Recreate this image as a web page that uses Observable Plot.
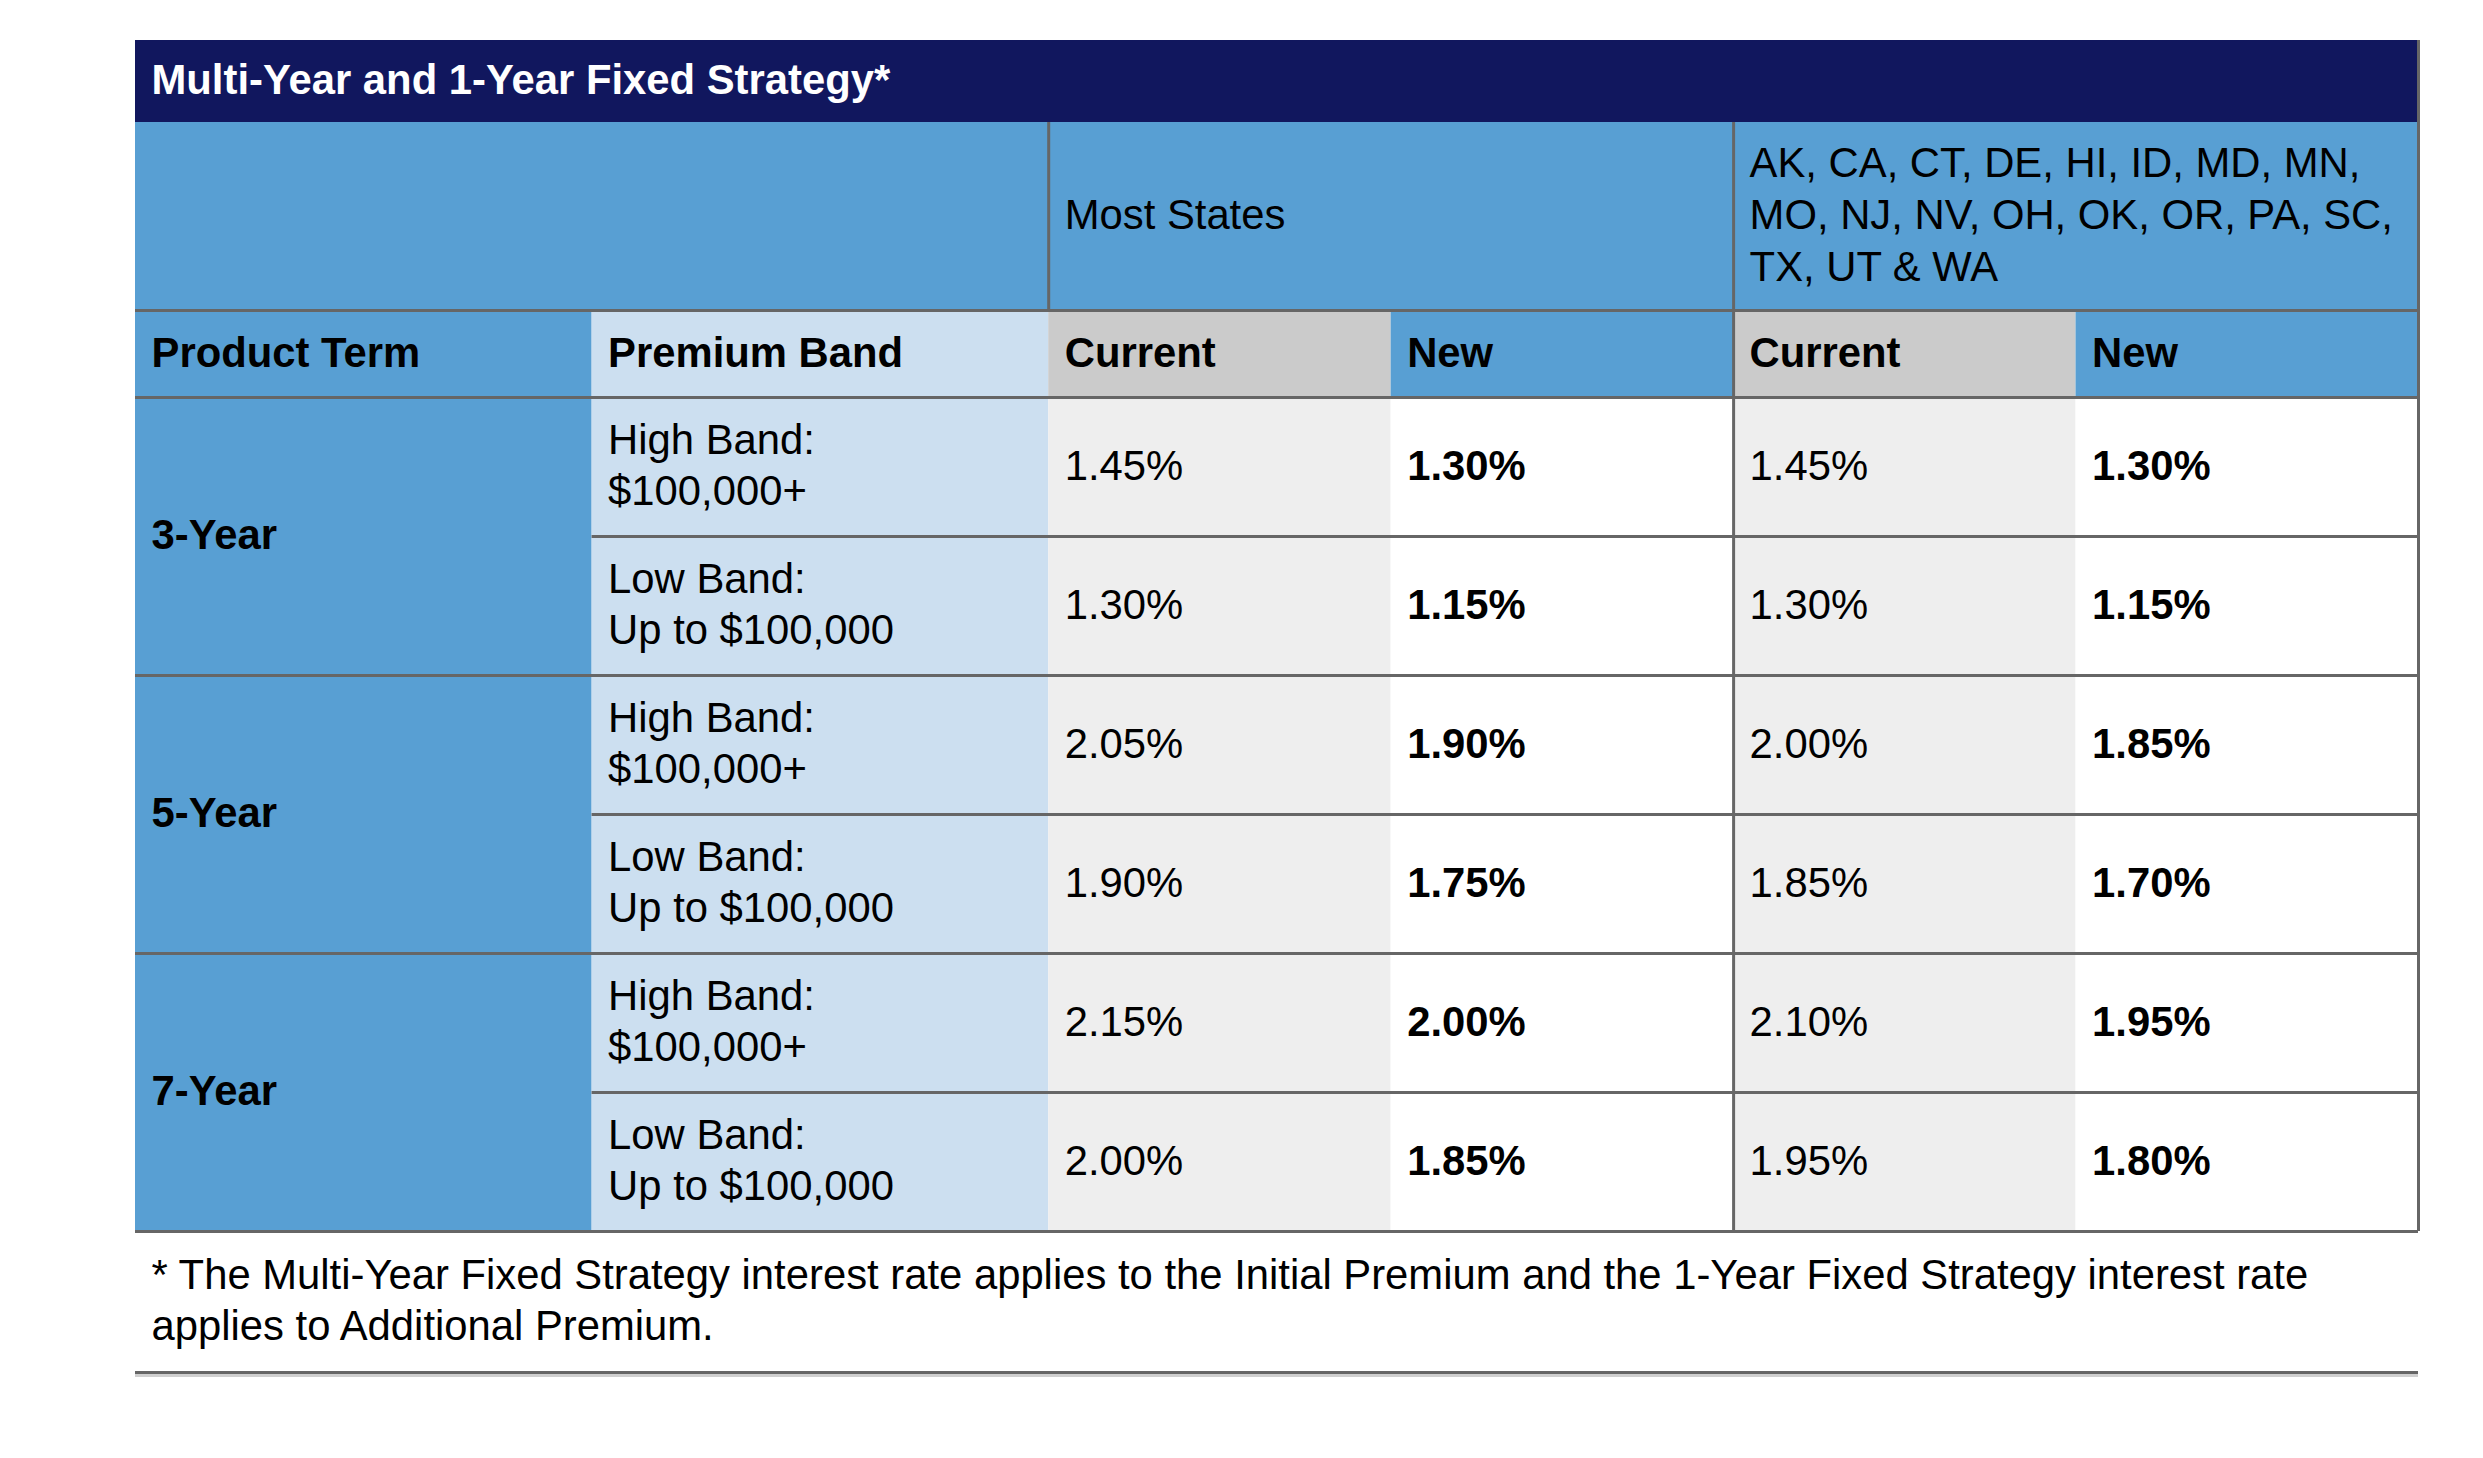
<!DOCTYPE html>
<html>
<head>
<meta charset="utf-8">
<script src="https://cdn.jsdelivr.net/npm/d3@7"></script>
<script src="https://cdn.jsdelivr.net/npm/@observablehq/plot@0.6"></script>
<style>
  html, body { margin: 0; padding: 0; background: #ffffff; }
  svg { display: block; }
</style>
</head>
<body>
<div id="chart"></div>
<script>
// ---- data ----
const title = "Multi-Year and 1-Year Fixed Strategy*";
const stateGroups = ["Most States", "AK, CA, CT, DE, HI, ID, MD, MN,\nMO, NJ, NV, OH, OK, OR, PA, SC,\nTX, UT & WA"];
const columnHeaders = ["Product Term", "Premium Band", "Current", "New", "Current", "New"];
const productTerms = ["3-Year", "5-Year", "7-Year"];
const premiumBands = ["High Band:\n$100,000+", "Low Band:\nUp to $100,000"];
const mostStatesCurrent = [1.45, 1.30, 2.05, 1.90, 2.15, 2.00];
const mostStatesNew     = [1.30, 1.15, 1.90, 1.75, 2.00, 1.85];
const otherStatesCurrent = [1.45, 1.30, 2.00, 1.85, 2.10, 1.95];
const otherStatesNew     = [1.30, 1.15, 1.85, 1.70, 1.95, 1.80];
const footnote = "* The Multi-Year Fixed Strategy interest rate applies to the Initial Premium and the 1-Year Fixed Strategy interest rate\napplies to Additional Premium.";

// ---- layout & style ----
const W = 2483, H = 1458;
const layout = {
  left: 135, right: 2418,
  colUnits: [4, 4, 3, 3, 3, 3],
  top: 40, titleH: 82, head1H: 188, head2H: 87, rowH: 139, footH: 141,
  pad: 16, textShift: -4
};
const colors = {
  navy: "#11175E", blue: "#589FD3", lightBlue: "#CCDFF0",
  headGray: "#CBCBCB", cellGray: "#EEEEEE", white: "#FFFFFF",
  line: "#666666", shadow: "#CFCFCF"
};
const FONT = "'Liberation Sans', Arial, Helvetica, sans-serif";
const FS = 41.8;
const LH = 1.235;

// column edges in column units
const edges = [0];
layout.colUnits.forEach(u => edges.push(edges[edges.length - 1] + u));
const totalUnits = edges[edges.length - 1];

// row edges (y)
const yTitle0 = layout.top, yTitle1 = yTitle0 + layout.titleH;
const yH1 = yTitle1 + layout.head1H;
const yH2 = yH1 + layout.head2H;
const rowY = i => yH2 + i * layout.rowH;
const nRows = productTerms.length * premiumBands.length;
const yTableBottom = rowY(nRows);
const yFoot = yTableBottom + layout.footH;

// ---- build cells ----
const rects = [];
const texts = [];
const fmt = v => d3.format(".2f")(v) + "%";

// title bar
rects.push({x1: 0, x2: totalUnits, y1: yTitle0, y2: yTitle1, fill: colors.navy});
texts.push({x: 0, y: (yTitle0 + yTitle1) / 2, text: title, fill: "white", weight: "bold"});

// header row 1
rects.push({x1: 0, x2: totalUnits, y1: yTitle1, y2: yH1, fill: colors.blue});
texts.push({x: edges[2], y: (yTitle1 + yH1) / 2, text: stateGroups[0], fill: "black", weight: "normal"});
texts.push({x: edges[4], y: (yTitle1 + yH1) / 2, text: stateGroups[1], fill: "black", weight: "normal"});

// header row 2
const head2Fills = [colors.blue, colors.lightBlue, colors.headGray, colors.blue, colors.headGray, colors.blue];
columnHeaders.forEach((h, c) => {
  rects.push({x1: edges[c], x2: edges[c + 1], y1: yH1, y2: yH2, fill: head2Fills[c]});
  texts.push({x: edges[c], y: (yH1 + yH2) / 2, text: h, fill: "black", weight: "bold"});
});

// data rows
const valueCols = [mostStatesCurrent, mostStatesNew, otherStatesCurrent, otherStatesNew];
const valueFills = [colors.cellGray, colors.white, colors.cellGray, colors.white];
const valueWeights = ["normal", "bold", "normal", "bold"];
productTerms.forEach((term, g) => {
  const r0 = g * premiumBands.length;
  rects.push({x1: edges[0], x2: edges[1], y1: rowY(r0), y2: rowY(r0 + premiumBands.length), fill: colors.blue});
  texts.push({x: edges[0], y: (rowY(r0) + rowY(r0 + premiumBands.length)) / 2, text: term, fill: "black", weight: "bold"});
  premiumBands.forEach((band, b) => {
    const r = r0 + b;
    const yc = (rowY(r) + rowY(r + 1)) / 2;
    rects.push({x1: edges[1], x2: edges[2], y1: rowY(r), y2: rowY(r + 1), fill: colors.lightBlue});
    texts.push({x: edges[1], y: yc, text: band, fill: "black", weight: "normal"});
    valueCols.forEach((arr, k) => {
      rects.push({x1: edges[2 + k], x2: edges[3 + k], y1: rowY(r), y2: rowY(r + 1), fill: valueFills[k]});
      texts.push({x: edges[2 + k], y: yc, text: fmt(arr[r]), fill: "black", weight: valueWeights[k]});
    });
  });
});

// footnote
texts.push({x: 0, y: (yTableBottom + yFoot) / 2, text: footnote, fill: "black", weight: "normal"});

// ---- grid lines ----
const hLines = [];
hLines.push({y: yH1, x1: 0, x2: totalUnits});
hLines.push({y: yH2, x1: 0, x2: totalUnits});
for (let r = 1; r <= nRows; r++) {
  const full = r % premiumBands.length === 0;
  hLines.push({y: rowY(r), x1: full ? 0 : edges[1], x2: totalUnits});
}
hLines.push({y: yFoot, x1: 0, x2: totalUnits});

const vLines = [
  {x: edges[2], y1: yTitle1, y2: yH1},
  {x: edges[4], y1: yTitle1, y2: yTableBottom},
  {x: edges[6], y1: yTitle0, y2: yTableBottom}
];

const bold = texts.filter(d => d.weight === "bold");
const normal = texts.filter(d => d.weight !== "bold");

const textOpts = (data) => Plot.text(data, {
  x: "x", y: "y", text: "text", fill: "fill",
  textAnchor: "start", lineAnchor: "middle", dx: layout.pad, dy: layout.textShift,
  lineHeight: LH, fontSize: FS, fontFamily: FONT,
  fontWeight: data === bold ? "bold" : "normal"
});

const chart = Plot.plot({
  width: W, height: H,
  marginLeft: layout.left, marginRight: W - layout.right,
  marginTop: 0, marginBottom: 0,
  x: {type: "linear", domain: [0, totalUnits], axis: null},
  y: {type: "linear", domain: [0, H], range: [0, H], axis: null},
  style: {fontFamily: FONT, background: "white"},
  marks: [
    Plot.rect(rects, {x1: "x1", x2: "x2", y1: "y1", y2: "y2", fill: "fill", inset: 0}),
    Plot.ruleY([{y: yFoot + 3, x1: 0, x2: totalUnits}], {y: "y", x1: "x1", x2: "x2", stroke: colors.shadow, strokeWidth: 3}),
    Plot.ruleY(hLines, {y: "y", x1: "x1", x2: "x2", stroke: colors.line, strokeWidth: 3}),
    Plot.ruleX(vLines, {x: "x", y1: "y1", y2: "y2", stroke: colors.line, strokeWidth: 3}),
    textOpts(normal),
    textOpts(bold)
  ]
});
document.getElementById("chart").appendChild(chart);
</script>
</body>
</html>
